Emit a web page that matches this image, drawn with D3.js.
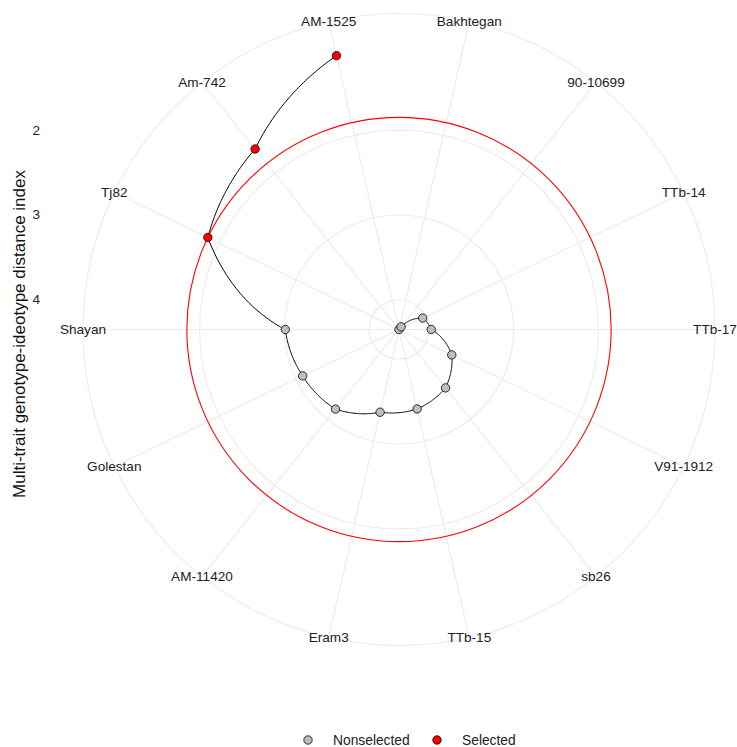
<!DOCTYPE html>
<html>
<head>
<meta charset="utf-8">
<script src="https://cdn.jsdelivr.net/npm/d3@7"></script>
<style>
  body { margin: 0; background: #fff; }
  svg { display: block; font-family: "Liberation Sans", Arial, sans-serif; }
</style>
</head>
<body>
<svg width="737" height="747"></svg>
<script>
// genotypes in factor order (Bakhtegan first, clockwise from top)
const genotypes = ["Bakhtegan", "90-10699", "TTb-14", "TTb-17", "V91-1912", "sb26", "TTb-15",
    "Eram3", "AM-11420", "Golestan", "Shayan", "Tj82", "Am-742", "AM-1525"];
const mgidi = [4.35, 4.31, 4.04, 3.97, 3.66, 3.47, 3.39,
    3.35, 3.15, 3.09, 3.01, 1.85, 1.63, 1.04];
const selected = ["Tj82", "Am-742", "AM-1525"];
const radialTicks = [2, 3, 4];
const legendItems = ["Nonselected", "Selected"];

const grayFill = "#bebebe";
const redFill = "#ff0000";
const gridColor = "#ebebeb";
const textColor = "#222";

const cx = 399, cy = 329.5;
const rOuter = 316;               // 0.45 of unit
const rData = rOuter * 0.4 / 0.45; // data range maps to 0..0.4

const data = genotypes.map((g, i) => ({ name: g, value: mgidi[i], sel: selected.includes(g) }));

const thetaScale = d3.scalePoint()
    .domain(genotypes)
    .range([0, 2 * Math.PI])
    .padding(0.5);

const rScale = d3.scaleLinear()
    .domain([d3.max(mgidi), d3.min(mgidi)])
    .range([0, rData]);

const px = (t, r) => cx + r * Math.sin(t);
const py = (t, r) => cy - r * Math.cos(t);

const svg = d3.select("svg");
const g = svg.append("g");

// grid circles (radial breaks + outer ring)
const ringRadii = radialTicks.map(v => rScale(v)).concat([rOuter]);
g.selectAll(".ring")
    .data(ringRadii)
    .enter().append("circle")
    .attr("cx", cx).attr("cy", cy)
    .attr("r", d => d)
    .attr("fill", "none")
    .attr("stroke", gridColor)
    .attr("stroke-width", 1.1);

// spokes
g.selectAll(".spoke")
    .data(genotypes)
    .enter().append("line")
    .attr("x1", cx).attr("y1", cy)
    .attr("x2", d => px(thetaScale(d), rOuter))
    .attr("y2", d => py(thetaScale(d), rOuter))
    .attr("stroke", gridColor)
    .attr("stroke-width", 1.1);

// theta labels
g.selectAll(".tlab")
    .data(genotypes)
    .enter().append("text")
    .attr("x", d => px(thetaScale(d), rOuter))
    .attr("y", d => py(thetaScale(d), rOuter))
    .attr("text-anchor", "middle")
    .attr("dominant-baseline", "central")
    .attr("font-size", "13.6px")
    .attr("fill", textColor)
    .text(d => d);

// radial tick labels
g.selectAll(".rlab")
    .data(radialTicks)
    .enter().append("text")
    .attr("x", 40)
    .attr("y", d => cy - rScale(d))
    .attr("text-anchor", "end")
    .attr("dominant-baseline", "central")
    .attr("font-size", "13.6px")
    .attr("fill", textColor)
    .text(d => d);

// axis title
svg.append("text")
    .attr("transform", `translate(25, 334) rotate(-90)`)
    .attr("text-anchor", "middle")
    .attr("font-size", "17px")
    .attr("fill", "#111")
    .text("Multi-trait genotype-ideotype distance index");

// cut circle
const cutValue = d3.max(data.filter(d => d.sel), d => d.value);
g.append("circle")
    .attr("cx", cx).attr("cy", cy)
    .attr("r", rScale(cutValue))
    .attr("fill", "none")
    .attr("stroke", redFill)
    .attr("stroke-width", 1.1);

// path, munched in data space like coord_polar
const munched = [];
for (let i = 0; i < data.length - 1; i++) {
    const a = data[i], b = data[i + 1];
    const ta = thetaScale(a.name), tb = thetaScale(b.name);
    const n = 40;
    for (let k = 0; k < n; k++) {
        const f = k / n;
        const t = ta + (tb - ta) * f;
        const r = rScale(a.value + (b.value - a.value) * f);
        munched.push([px(t, r), py(t, r)]);
    }
}
const last = data[data.length - 1];
munched.push([px(thetaScale(last.name), rScale(last.value)), py(thetaScale(last.name), rScale(last.value))]);

g.append("path")
    .attr("d", d3.line()(munched))
    .attr("fill", "none")
    .attr("stroke", "#000")
    .attr("stroke-width", 1);

// points
g.selectAll(".pt")
    .data(data)
    .enter().append("circle")
    .attr("cx", d => px(thetaScale(d.name), rScale(d.value)))
    .attr("cy", d => py(thetaScale(d.name), rScale(d.value)))
    .attr("r", 4.2)
    .attr("fill", d => d.sel ? redFill : grayFill)
    .attr("stroke", "#000")
    .attr("stroke-width", 0.8);

// legend
const legendX = [308, 437];
const legend = svg.selectAll(".leg")
    .data(legendItems)
    .enter().append("g")
    .attr("transform", (d, i) => `translate(${legendX[i]}, 740)`);
legend.append("circle")
    .attr("r", 4.2)
    .attr("fill", (d, i) => i ? redFill : grayFill)
    .attr("stroke", "#000")
    .attr("stroke-width", 0.8);
legend.append("text")
    .attr("x", 25)
    .attr("dominant-baseline", "central")
    .attr("font-size", "13.8px")
    .attr("fill", textColor)
    .text(d => d);
</script>
</body>
</html>
